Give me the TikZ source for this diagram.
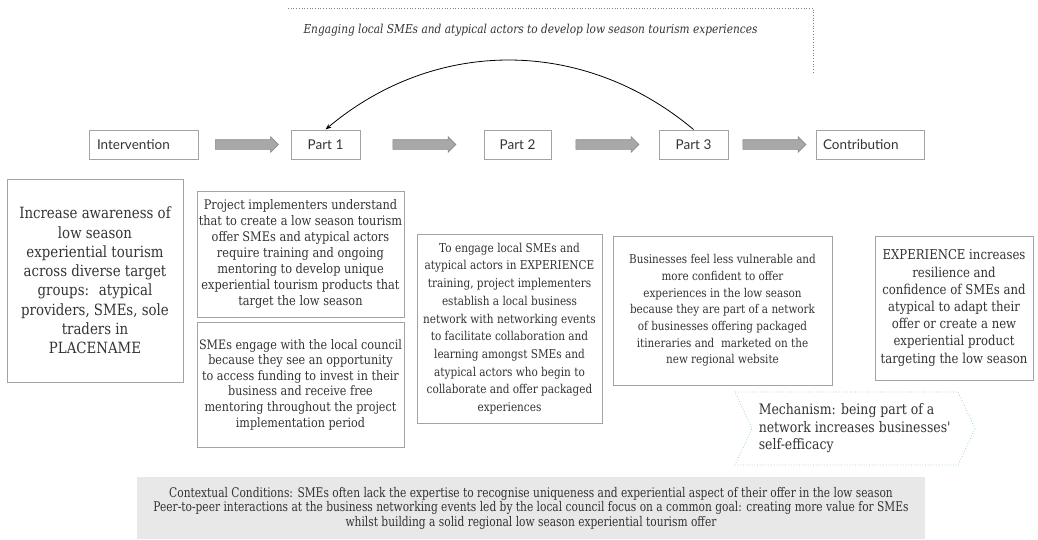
\documentclass[tikz,border=0pt]{standalone}
\usepackage{fontspec}
\setmainfont[FakeStretch=0.86]{DejaVu Serif}
\setsansfont{Lato}
\newfontfamily\condfont[FakeStretch=0.8]{DejaVu Serif}
\usetikzlibrary{arrows.meta,positioning,shapes.arrows,shapes.symbols}
\definecolor{ink}{HTML}{333333}
\definecolor{frame}{HTML}{A3A3A3}
\definecolor{pipe}{HTML}{A8A8A8}
\definecolor{pipeedge}{HTML}{8A8A8A}
\definecolor{mint}{HTML}{9FD3B5}
\definecolor{fog}{HTML}{E8E8E8}
\tikzset{stage/.style={draw=frame,line width=1pt,minimum height=29pt,inner sep=0pt,text=ink,
 font=\sffamily\fontsize{13.5}{15}\selectfont},
 story/.style={draw=frame,line width=1pt,align=center,inner sep=0pt,text=ink},
 fat/.style={single arrow,draw=pipeedge,fill=pipe,line width=0.6pt,inner sep=4.5pt,
 single arrow head extend=3pt,single arrow head indent=0pt,minimum height=63pt}}

\begin{document}
\begin{tikzpicture}[x=1pt,y=-1pt]
\useasboundingbox (0,0) rectangle (1038,539);
\node[stage,minimum width=109pt,text width=93pt,align=left] (intv) at (143.5,144.5) {Intervention};
\node[stage,minimum width=69pt,right=92pt of intv] (p1) {Part 1};
\node[stage,minimum width=67pt,right=123pt of p1] (p2) {Part 2};
\node[stage,minimum width=69pt,right=107pt of p2] (p3) {Part 3};
\node[stage,minimum width=108pt,text width=94pt,align=left,right=87pt of p3] (contrib) {Contribution};
\path (intv) -- node[fat] (a1) {} (p1);
\path (p1) -- node[fat] (a2) {} (p2);
\path (p2) -- node[fat] (a3) {} (p3);
\path (p3) -- node[fat] (a4) {} (contrib);
\node[text=ink,font=\itshape\fontsize{12.3}{14}\selectfont] (theme) at (530.5,30)
 {Engaging local SMEs and atypical actors to develop low season tourism experiences};
\draw[dotted,draw=gray,line width=0.7pt] (288,8) -- (813,8) -- (813,72);
\draw[-{Stealth[length=6pt,width=4.5pt]},line width=0.8pt] (p3.north) to[bend right=40] (p1.north);

\node[story,minimum width=176pt,minimum height=203pt,font=\fontsize{15.5}{19.3}\selectfont] (aware) at (95,280.5)
 {Increase awareness of\\low season\\experiential tourism\\across diverse target\\groups:~ atypical\\providers, SMEs, sole\\traders in\\PLACENAME};
\node[story,minimum width=207pt,minimum height=126pt,font=\fontsize{13.2}{16}\selectfont] (need) at (300.5,254)
 {Project implementers understand\\that to create a low season tourism\\offer SMEs and atypical actors\\require training and ongoing\\mentoring to develop unique\\experiential tourism products that\\target the low season};
\node[story,minimum width=207pt,minimum height=125pt,font=\fontsize{13}{15.6}\selectfont] (engage) at (300.5,384.5)
 {SMEs engage with the local council\\because they see an opportunity\\to access funding to invest in their\\business and receive free\\mentoring throughout the project\\implementation period};
\node[story,minimum width=185pt,minimum height=189pt,font=\fontsize{12.2}{17.7}\selectfont] (network) at (509.5,328.5)
 {To engage local SMEs and\\atypical actors in EXPERIENCE\\training, project implementers\\establish a local business\\network with networking events\\to facilitate collaboration and\\learning amongst SMEs and\\atypical actors who begin to\\collaborate and offer packaged\\experiences};
\node[story,minimum width=219pt,minimum height=149pt,font=\fontsize{12.1}{16.7}\selectfont] (confident) at (722.5,310.5)
 {Businesses feel less vulnerable and\\more confident to offer\\experiences in the low season\\because they are part of a network\\of businesses offering packaged\\itineraries and~ marketed on the\\new regional website};
\node[story,minimum width=158pt,minimum height=144pt,font=\fontsize{13.6}{17.2}\selectfont] (resilience) at (954,308)
 {EXPERIENCE increases\\resilience and\\confidence of SMEs and\\atypical to adapt their\\offer or create a new\\experiential product\\targeting the low season};
\node[signal,signal from=west,signal to=east,signal pointer angle=130,draw=mint,dotted,line width=0.8pt,
 text=ink,align=left,inner sep=2pt,minimum width=240pt,minimum height=73pt,font=\fontsize{14.5}{17.5}\selectfont] (mech) at (855,428.5)
 {Mechanism: being part of a\\network increases businesses\textquotesingle\\self-efficacy};
\node[fill=fog,minimum width=788pt,minimum height=62pt,align=center,text=ink,inner sep=0pt,
 font=\condfont\fontsize{13.3}{14.5}\selectfont] (context) at (531,508)
 {Contextual Conditions: SMEs often lack the expertise to recognise uniqueness and experiential aspect of their offer in the low season\\Peer-to-peer interactions at the business networking events led by the local council focus on a common goal: creating more value for SMEs\\whilst building a solid regional low season experiential tourism offer};
\end{tikzpicture}
\end{document}
